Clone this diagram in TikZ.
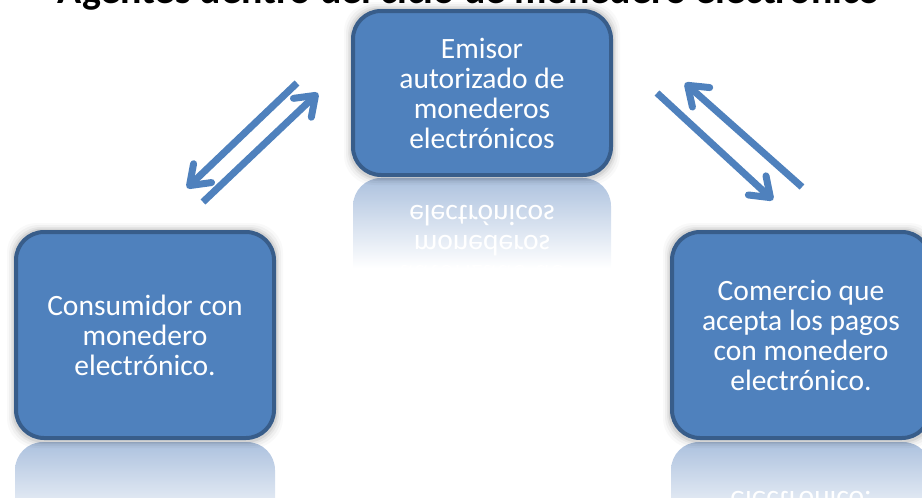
\documentclass[tikz,border=0pt]{standalone}
\usepackage{fontspec}
\setmainfont{Carlito}
\usetikzlibrary{arrows.meta,backgrounds}
\definecolor{boxfill}{RGB}{79,129,189}
\definecolor{boxline}{RGB}{56,93,138}
\definecolor{refl}{RGB}{172,193,222}
\tikzset{
  agent/.style={draw=boxline, line width=4pt, fill=boxfill, rounded corners=28pt,
    text=white, align=center, font=\fontsize{29.5}{30}\selectfont, inner sep=0pt,
    minimum width=258pt},
  mirrortext/.style={text=white, align=center, font=\fontsize{29.5}{30}\selectfont,
    inner sep=0pt, yscale=-1, transform shape},
  flow/.style={draw=boxfill, line width=7pt,
    -{Straight Barb[length=18pt,width=26pt,round]}},
  shadowring/.style={fill=black, rounded corners=30pt},
}
\begin{document}
\begin{tikzpicture}[x=1pt,y=1pt]
\useasboundingbox (0,0) rectangle (922,-498);
\clip (0,0) rectangle (922,-498);

% title (cut off at the top in the reference)
\node[anchor=base, inner sep=0pt] (title) at (469,-3.5)
  {\resizebox{822pt}{!}{\bfseries Agentes dentro del ciclo de monedero electrónico}};

% boxes
\node[agent, minimum height=164pt] (emisor) at (482,-93)
  {Emisor\\autorizado de\\monederos\\electrónicos};
\node[agent, minimum height=206pt] (consumidor) at (145,-335)
  {Consumidor con\\monedero\\electrónico.};
\node[agent, minimum height=206pt] (comercio) at (801,-335)
  {Comercio que\\acepta los pagos\\con monedero\\electrónico.};

\begin{scope}[on background layer]
  % reflections
  \begin{scope}
    \clip[rounded corners=28pt] (353,-178) rectangle (611,-342);
    \shade[top color=refl, bottom color=white] (353,-178) rectangle (611,-268);
  \end{scope}
  \node[mirrortext] (emisorR) at (482,-261) {Emisor\\autorizado de\\monederos\\electrónicos};
  \begin{scope}
    \clip[rounded corners=28pt] (15,-442) rectangle (275,-650);
    \shade[top color=refl, bottom color=white] (15,-442) rectangle (275,-532);
  \end{scope}
  \begin{scope}
    \clip[rounded corners=28pt] (671,-442) rectangle (931,-650);
    \shade[top color=refl, bottom color=white] (671,-442) rectangle (931,-532);
  \end{scope}
  \node[mirrortext] (comercioR) at (801,-547) {Comercio que\\acepta los pagos\\con monedero\\electrónico.};
  % soft shadows
  \foreach \n in {emisor,consumidor,comercio}{
    \foreach \e/\o in {7/0.025,5/0.035,3/0.05,1.5/0.07}{
      \fill[shadowring, opacity=\o]
        ([shift={(-\e,\e)}]\n.north west) rectangle ([shift={(\e,-\e-1)}]\n.south east);
    }
  }
\end{scope}

% arrows
\coordinate (a1s) at (297,-83);  \coordinate (a1e) at (187,-188);
\coordinate (a2s) at (203,-202); \coordinate (a2e) at (318,-93);
\coordinate (a3s) at (657,-93);  \coordinate (a3e) at (773,-200);
\coordinate (a4s) at (802,-187); \coordinate (a4e) at (685,-83);
\draw[flow] (a1s) -- (a1e);
\draw[flow] (a2s) -- (a2e);
\draw[flow] (a3s) -- (a3e);
\draw[flow] (a4s) -- (a4e);
\end{tikzpicture}
\end{document}
